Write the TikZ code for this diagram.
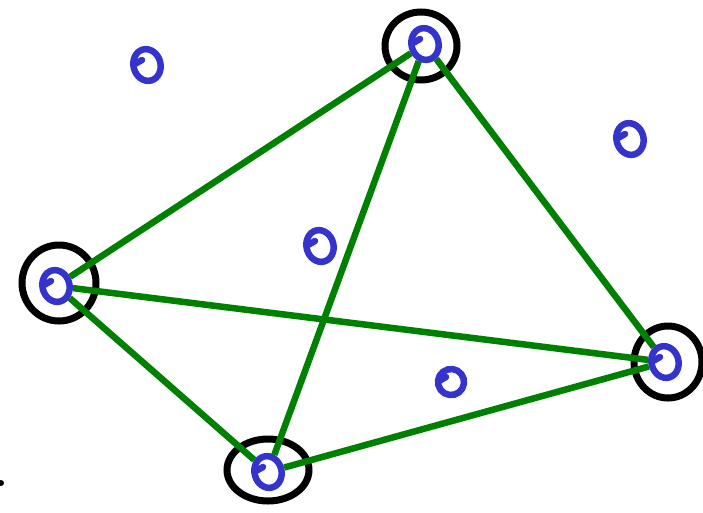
\documentclass[tikz,border=0pt]{standalone}
\usetikzlibrary{shapes.geometric}
\definecolor{pen}{RGB}{52,52,204}
\definecolor{edgegreen}{RGB}{0,128,0}
\tikzset{
  dot/.style={ellipse, draw=pen, line width=6.5pt, inner sep=0pt, minimum width=27pt, minimum height=32pt, rotate=15},
  ring/.style={ellipse, draw=black, line width=7pt, inner sep=0pt},
  edge/.style={draw=edgegreen, line width=6.5pt},
  hook/.style={draw=pen, line width=6.5pt, line cap=round}
}
\begin{document}
\begin{tikzpicture}[x=1pt,y=-1pt]
\useasboundingbox (0,0) rectangle (703,512);
% black rings
\node[ring, minimum width=72pt, minimum height=68pt] (rt) at (421,46) {};
\node[ring, minimum width=74pt, minimum height=76pt] (rl) at (59,283) {};
\node[ring, minimum width=68pt, minimum height=72pt] (rr) at (668,362) {};
\node[ring, minimum width=82pt, minimum height=62pt] (rb) at (268,470) {};
% blue o's at vertices
\node[dot] (t) at (425,44) {};
\node[dot] (l) at (56,286) {};
\node[dot] (r) at (665,362) {};
\node[dot] (b) at (268,472) {};
% free blue o's
\node[dot] (f1) at (147,65) {};
\node[dot] (f2) at (630,139) {};
\node[dot] (f3) at (320,246) {};
\node[dot, minimum width=26pt, minimum height=26pt] (f4) at (451,382) {};
% hooks
\foreach \n in {t,l,r,b,f1,f2,f3,f4}{
  \draw[hook] (\n.center) ++(-5,-5) -- ++(-7,4);
}
% green edges
\draw[edge] (t) -- (l);
\draw[edge] (t) -- (b);
\draw[edge] (t) -- (r);
\draw[edge] (l) -- (r);
\draw[edge] (l) -- (b);
\draw[edge] (b) -- (r);
% small mark at left edge
\node[circle, fill=black, inner sep=0pt, minimum size=6pt] (mk) at (1,483) {};
\end{tikzpicture}
\end{document}
